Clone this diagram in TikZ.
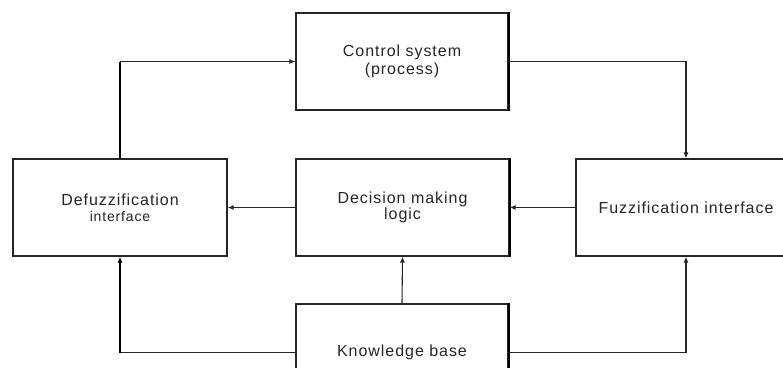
\documentclass[tikz,border=0pt]{standalone}
\usepackage{fontspec}
\setmainfont{Liberation Sans}
\usetikzlibrary{arrows.meta}
\begin{document}
\begin{tikzpicture}[x=1pt,y=-1pt,
  blk/.style={draw=black!85, line width=1.2pt, fill=white, minimum height=97pt, inner sep=0pt, align=center, text=black!85},
  conn/.style={draw=black!85, line width=1.1pt},
  thk/.style={draw=black, line width=2.6pt},
  arr/.style={-{Latex[length=6pt,width=5pt]}},
  txt/.style={font=\fontsize{16}{16}\selectfont\addfontfeature{LetterSpace=6}}
]
\useasboundingbox[fill=white] (0,0) rectangle (783,367);
\clip (0,0) rectangle (783,367);

\node[blk, minimum width=212pt, font=\fontsize{16}{18}\selectfont\addfontfeature{LetterSpace=6}] (ctrl) at (402,61.5) {Control system\\(process)};
\node[blk, minimum width=214pt, txt] (defuz) at (120,207.5) {Defuzzification\\{\fontsize{14}{14}\selectfont\addfontfeature{LetterSpace=6}interface}};
\node[blk, minimum width=213pt, txt] (dec) at (402.5,207.5) {Decision making\\logic};
\node[blk, minimum width=220pt, txt] (fuz) at (686,207.5) {Fuzzification interface};
\node[blk, minimum width=212pt, txt] (know) at (402,352.5) {Knowledge base};

% thicker right edges
\draw[thk, line width=2pt] (ctrl.north east) -- (ctrl.south east);
\draw[thk, line width=2pt] (dec.north east) -- (dec.south east);
\draw[thk, line width=2pt] (know.north east) -- (know.south east);

% connectors
\draw[conn] (defuz.north) -- (defuz.north |- ctrl.west);
\draw[thk] (defuz.north) -- ++(0,-96);
\draw[conn, arr] (defuz.north |- ctrl.west) -- (ctrl.west);
\draw[conn, arr] (ctrl.east) -| (fuz.north);
\draw[conn, arr] (fuz.west) -- (dec.east);
\draw[conn, arr] (dec.west) -- (defuz.east);
\draw[conn, arr] (know.north) -- (dec.south);
\coordinate (kl) at (defuz.south |- know.west);
\draw[conn] (know.west) -- (kl);
\draw[thk, arr] (kl) -- (defuz.south);
\draw[conn, arr] (know.east) -| (fuz.south);
\end{tikzpicture}
\end{document}
